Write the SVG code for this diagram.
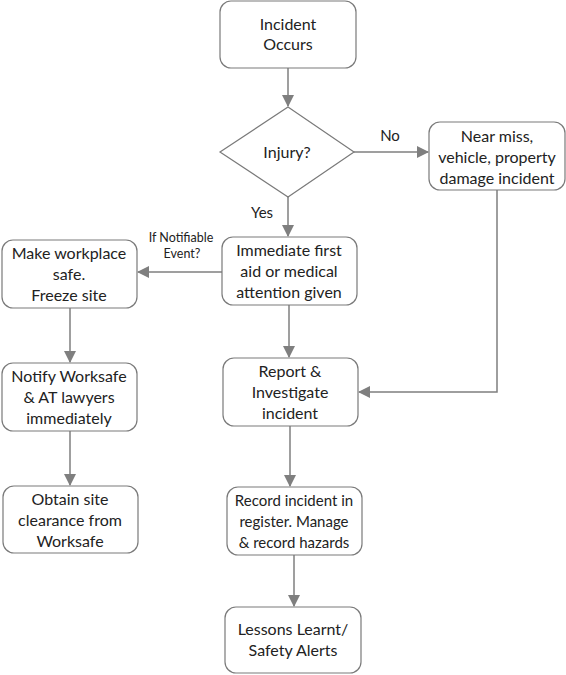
<svg xmlns="http://www.w3.org/2000/svg" width="566" height="675" viewBox="0 0 566 675">
<defs>
<style>
.box{fill:#fff;stroke:#7a7a7a;stroke-width:1.2}
.t{font-family:Lato,"Open Sans",sans-serif;font-size:16px;fill:#222;text-anchor:middle}
.s{font-size:15px}
.lbl{font-family:Lato,"Open Sans",sans-serif;font-size:15px;fill:#222;text-anchor:middle}
.sm{font-family:Lato,"Open Sans",sans-serif;font-size:12.5px;fill:#222;text-anchor:middle}
.c{fill:none;stroke:#7f7f7f;stroke-width:1.5}
</style>
<marker id="a" viewBox="0 0 12 12" markerWidth="12" markerHeight="12" refX="11" refY="6" orient="auto" markerUnits="userSpaceOnUse">
<path d="M0,0 L12,6 L0,12 Z" fill="#7f7f7f"/>
</marker>
</defs>
<rect width="566" height="675" fill="#fff"/>
<g id="connectors">
<path class="c" d="M288,68 V106" marker-end="url(#a)"/>
<path class="c" d="M354,152 H428" marker-end="url(#a)"/>
<path class="c" d="M288,197 V236" marker-end="url(#a)"/>
<path class="c" d="M222,272 H138" marker-end="url(#a)"/>
<path class="c" d="M70,308 V362" marker-end="url(#a)"/>
<path class="c" d="M70,431 V485" marker-end="url(#a)"/>
<path class="c" d="M289,305 V357" marker-end="url(#a)"/>
<path class="c" d="M497,190 V392 H359" marker-end="url(#a)"/>
<path class="c" d="M290,426 V486" marker-end="url(#a)"/>
<path class="c" d="M294,555 V606" marker-end="url(#a)"/>
<text class="lbl" x="390" y="141">No</text>
<text class="lbl" x="262" y="218">Yes</text>
<text class="sm" x="181" y="242">If Notifiable</text>
<text class="sm" x="182" y="258">Event?</text>
</g>
<g id="incident">
<rect class="box" x="220" y="1" width="136" height="67" rx="11"/>
<text class="t" x="288" y="30">Incident</text>
<text class="t" x="288" y="50">Occurs</text>
</g>
<g id="injury">
<path class="box" d="M288,107 L354,152 L288,197 L220,152 Z"/>
<text class="t" x="287" y="158">Injury?</text>
</g>
<g id="nearmiss">
<rect class="box" x="429" y="122" width="136" height="68" rx="11"/>
<text class="t" x="497" y="142">Near miss,</text>
<text class="t" x="497" y="163">vehicle, property</text>
<text class="t" x="497" y="184">damage incident</text>
</g>
<g id="firstaid">
<rect class="box" x="222" y="237" width="135" height="68" rx="11"/>
<text class="t" x="289" y="256">Immediate first</text>
<text class="t" x="289" y="277">aid or medical</text>
<text class="t" x="289" y="298">attention given</text>
</g>
<g id="makesafe">
<rect class="box" x="2" y="240" width="135" height="68" rx="11"/>
<text class="t" x="69" y="259">Make workplace</text>
<text class="t" x="69" y="280">safe.</text>
<text class="t" x="69" y="301">Freeze site</text>
</g>
<g id="notify">
<rect class="box" x="2" y="363" width="135" height="68" rx="11"/>
<text class="t" x="69" y="382">Notify Worksafe</text>
<text class="t" x="69" y="403">&amp; AT lawyers</text>
<text class="t" x="69" y="424">immediately</text>
</g>
<g id="clearance">
<rect class="box" x="3" y="486" width="135" height="67" rx="11"/>
<text class="t" x="70" y="505">Obtain site</text>
<text class="t" x="70" y="526">clearance from</text>
<text class="t" x="70" y="547">Worksafe</text>
</g>
<g id="report">
<rect class="box" x="223" y="358" width="135" height="68" rx="11"/>
<text class="t" x="290" y="377">Report &amp;</text>
<text class="t" x="290" y="398">Investigate</text>
<text class="t" x="290" y="419">incident</text>
</g>
<g id="record">
<rect class="box" x="227" y="487" width="135" height="68" rx="11"/>
<text class="t s" x="294" y="506">Record incident in</text>
<text class="t s" x="294" y="527">register. Manage</text>
<text class="t s" x="294" y="548">&amp; record hazards</text>
</g>
<g id="lessons">
<rect class="box" x="225" y="607" width="136" height="66" rx="11"/>
<text class="t" x="293" y="635">Lessons Learnt/</text>
<text class="t" x="293" y="656">Safety Alerts</text>
</g>
</svg>
